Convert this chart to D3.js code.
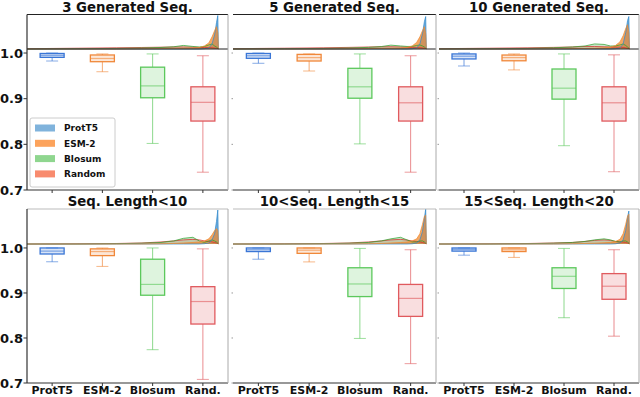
<!DOCTYPE html>
<html>
<head>
<meta charset="utf-8">
<script src="https://cdn.jsdelivr.net/npm/d3@7"></script>
<style>
body { margin: 0; background: #fff; }
svg text { font-family: "DejaVu Sans", sans-serif; font-weight: bold; fill: #111; }
</style>
</head>
<body>
<div id="chart"></div>
<script>
const w = 640;
const h = 397;

const models = ["ProtT5", "ESM-2", "Blosum", "Random"];
const xLabels = ["ProtT5", "ESM-2", "Blosum", "Rand."];
const panelTitles = ["3 Generated Seq.", "5 Generated Seq.", "10 Generated Seq.",
    "Seq. Length<10", "10<Seq. Length<15", "15<Seq. Length<20"];
const yTicks = [0.7, 0.8, 0.9, 1.0];

// box stats per panel: [low whisker, q1, median, q3, high whisker]
const protT5Box = [
    [0.9825, 0.9905, 0.995, 0.999, 1.0],
    [0.9775, 0.9884, 0.994, 0.999, 1.0],
    [0.9716, 0.987, 0.993, 0.998, 1.0],
    [0.9693, 0.9866, 0.993, 1.0, 1.0],
    [0.975, 0.992, 0.996, 1.0, 1.0],
    [0.984, 0.993, 0.997, 1.0, 1.0]
];
const esmBox = [
    [0.959, 0.981, 0.988, 0.9957, 0.998],
    [0.9606, 0.9825, 0.99, 0.997, 0.998],
    [0.963, 0.983, 0.99, 0.9956, 0.998],
    [0.959, 0.983, 0.992, 0.998, 1.0],
    [0.969, 0.988, 0.995, 1.0, 1.0],
    [0.979, 0.992, 0.996, 1.0, 1.0]
];
const blosumBox = [
    [0.802, 0.902, 0.928, 0.969, 0.998],
    [0.801, 0.901, 0.926, 0.9665, 0.998],
    [0.797, 0.899, 0.923, 0.965, 0.998],
    [0.774, 0.895, 0.919, 0.975, 1.0],
    [0.799, 0.892, 0.920, 0.956, 0.999],
    [0.845, 0.910, 0.937, 0.956, 0.999]
];
const randomBox = [
    [0.739, 0.851, 0.892, 0.926, 0.994],
    [0.739, 0.851, 0.891, 0.926, 0.994],
    [0.740, 0.851, 0.891, 0.926, 0.996],
    [0.708, 0.831, 0.881, 0.914, 0.998],
    [0.743, 0.848, 0.888, 0.919, 0.996],
    [0.804, 0.886, 0.915, 0.943, 0.996]
];

// histogram densities (top strip) on a shared similarity grid
const histX = [0.70, 0.78, 0.84, 0.88, 0.91, 0.93, 0.945, 0.96, 0.97, 0.978, 0.985, 0.99, 0.994, 0.997, 0.999, 1.0];
const protT5Hist = [
    [0,0,0,0,0,0,0,0,0,0.3,1,5,14,26,33,0],
    [0,0,0,0,0,0,0,0,0,0.3,1,5,15,27,32,0],
    [0,0,0,0,0,0,0,0,0,0.3,1,5,16,28,32,0],
    [0,0,0,0,0,0,0,0,0,0.3,1,4,10,22,33,0],
    [0,0,0,0,0,0,0,0,0,0.2,1,4,12,25,34,0],
    [0,0,0,0,0,0,0,0,0,0.2,1,4,13,26,32,0]
];
const esmHist = [
    [0,0,0,0.2,0.4,0.6,0.8,1,1.5,3,6,12,18,22,16,0],
    [0,0,0,0.2,0.4,0.6,0.8,1,1.6,3,6.5,12,18,22,15,0],
    [0,0,0,0.2,0.4,0.6,0.8,1.2,1.8,3.5,7,13,20,24,16,0],
    [0,0,0,0,0.2,0.5,1,1.5,2,3,5,9,13,15,13,0],
    [0,0,0,0,0.2,0.5,1,1.5,2,3,5,10,19,27,28,0],
    [0,0,0,0,0.2,0.5,0.8,1.2,1.6,2.5,4.5,10,19,27,29,0]
];
const blosumHist = [
    [0,0.3,0.6,1,1.5,2.2,3.5,2.5,2,2.5,4,5,3,2,1,0],
    [0,0.3,0.6,1,1.6,2.4,3.8,3,2.5,2.5,3.5,4,3,2,1,0],
    [0,0.3,0.6,1.2,2,3,5,4.5,3,3,4,5,3.5,2,1,0],
    [0,0,0.3,0.8,1.5,3,5.5,6.5,3,1.5,3,4,3,2,1,0],
    [0,0,0.3,0.8,1.5,3,5,6.5,4,2,2,3,3,2,1,0],
    [0,0,0.3,0.8,1.5,2.5,4,5,4,2.5,2,3,3,2,1,0]
];
const randomHist = [
    [0.3,0.8,1.2,1.5,1.8,2,2,1.8,1.6,1.5,1.5,1.2,1,0.8,0.5,0],
    [0.3,0.8,1.2,1.6,2,2.2,2.2,2,1.8,1.6,1.5,1.2,1,0.8,0.5,0],
    [0.3,0.8,1.2,1.6,2,2.5,2.5,2.2,2,1.8,1.8,1.5,1.2,0.8,0.5,0],
    [0,0.2,0.5,1,2,3,4,4.5,4,3,2.5,2,1.5,1,0.5,0],
    [0,0.2,0.5,1,2,3,4,4.5,3.8,3,2.5,2,1.5,1,0.5,0],
    [0,0.2,0.5,1,1.5,2.5,3.5,4,3.5,2.5,2,1.8,1.5,1,0.5,0]
];

const boxData = [protT5Box, esmBox, blosumBox, randomBox];
const histData = [protT5Hist, esmHist, blosumHist, randomHist];

const boxColors = ["#3a76d6", "#f0883a", "#5cc85c", "#e05a5e"];
const histColors = ["#2f88cc", "#f08a30", "#2ca02c", "#d62728"];
const histOpacity = [0.7, 0.75, 0.25, 0.2];
const legendColors = ["#80b3dc", "#fca35c", "#8fd68f", "#f88b6e"];

const panelX = [27, 233, 439];
const panelW = [201, 203, 200];
const rows = [
    {title: 11.5, histTop: 14.5, histBottom: 49, bottom: 190, topColor: "#222", sep: true},
    {title: 206, histTop: 209, histBottom: 244, bottom: 383, topColor: "#bbb", sep: false}
];

const svg = d3.select("#chart")
    .append("svg")
        .attr("width", w)
        .attr("height", h);

panelTitles.forEach((title, p) => {
    const row = rows[Math.floor(p / 3)];
    const col = p % 3;
    const x0 = panelX[col];
    const pw = panelW[col];
    const g = svg.append("g");

    const x = d3.scalePoint()
        .domain(models)
        .range([x0, x0 + pw])
        .padding(0.5);
    const y = d3.scaleLinear()
        .domain([0.7, 1.0088])
        .range([row.bottom, row.histBottom]);
    const hx = d3.scaleLinear()
        .domain([0.7, 1.015])
        .range([x0, x0 + pw]);
    const hy = d3.scaleLinear()
        .domain([0, 34])
        .range([row.histBottom, row.histTop]);

    // histogram strip
    const area = d3.area()
        .x((d, i) => hx(histX[i]))
        .y0(hy(0))
        .y1(d => hy(d));
    const line = d3.line()
        .x((d, i) => hx(histX[i]))
        .y(d => hy(d));
    [3, 2, 0, 1].forEach(m => {
        g.append("path")
            .attr("d", area(histData[m][p]))
            .attr("fill", histColors[m])
            .attr("fill-opacity", histOpacity[m]);
    });
    [3, 2, 0, 1].forEach(m => {
        g.append("path")
            .attr("d", line(histData[m][p]))
            .attr("fill", "none")
            .attr("stroke", histColors[m])
            .attr("stroke-opacity", 0.8)
            .attr("stroke-width", 0.9);
    });

    // spines
    g.append("line")
        .attr("x1", x0).attr("x2", x0 + pw)
        .attr("y1", row.histTop).attr("y2", row.histTop)
        .attr("stroke", row.topColor).attr("stroke-width", 1.2);
    if (row.sep) {
        g.append("line")
            .attr("x1", x0).attr("x2", x0 + pw)
            .attr("y1", row.histBottom).attr("y2", row.histBottom)
            .attr("stroke", "#222").attr("stroke-width", 1.2);
    }
    g.append("line")
        .attr("x1", x0).attr("x2", x0 + pw)
        .attr("y1", row.bottom).attr("y2", row.bottom)
        .attr("stroke", "#333").attr("stroke-width", 1.2);
    g.append("line")
        .attr("x1", x0 + pw).attr("x2", x0 + pw)
        .attr("y1", row.histTop).attr("y2", row.bottom)
        .attr("stroke", "#aaa").attr("stroke-width", 1);
    if (col == 0) {
        g.append("line")
            .attr("x1", x0).attr("x2", x0)
            .attr("y1", row.histTop).attr("y2", row.bottom)
            .attr("stroke", "#333").attr("stroke-width", 1.2);
    }

    // y ticks
    yTicks.forEach(t => {
        g.append("line")
            .attr("x1", x0 - (col == 0 ? 3.5 : 1.5)).attr("x2", x0)
            .attr("y1", y(t)).attr("y2", y(t))
            .attr("stroke", col == 0 ? "#333" : "#999");
        if (col == 0) {
            g.append("text")
                .attr("x", x0 - 4)
                .attr("y", y(t))
                .attr("dy", "0.36em")
                .attr("text-anchor", "end")
                .style("font-size", "13px")
                .text(d3.format(".1f")(t));
        }
    });

    // x ticks
    models.forEach((m, i) => {
        g.append("line")
            .attr("x1", x(m)).attr("x2", x(m))
            .attr("y1", row.bottom).attr("y2", row.bottom + 3)
            .attr("stroke", "#333");
        if (p >= 3) {
            g.append("text")
                .attr("x", x(m))
                .attr("y", 394)
                .attr("text-anchor", "middle")
                .style("font-size", "11px")
                .text(xLabels[i]);
        }
    });

    // boxes
    models.forEach((m, i) => {
        const s = boxData[i][p];
        const cx = x(m);
        const bw = 12;
        const cw = 6;
        const c = boxColors[i];
        g.append("line")
            .attr("x1", cx).attr("x2", cx)
            .attr("y1", y(s[4])).attr("y2", y(s[3]))
            .attr("stroke", c).attr("stroke-opacity", 0.7);
        g.append("line")
            .attr("x1", cx).attr("x2", cx)
            .attr("y1", y(s[1])).attr("y2", y(s[0]))
            .attr("stroke", c).attr("stroke-opacity", 0.7);
        [s[0], s[4]].forEach(v => {
            g.append("line")
                .attr("x1", cx - cw).attr("x2", cx + cw)
                .attr("y1", y(v)).attr("y2", y(v))
                .attr("stroke", c).attr("stroke-opacity", 0.6);
        });
        g.append("rect")
            .attr("x", cx - bw)
            .attr("y", y(s[3]))
            .attr("width", bw * 2)
            .attr("height", Math.max(y(s[1]) - y(s[3]), 1))
            .attr("fill", c).attr("fill-opacity", 0.2)
            .attr("stroke", c).attr("stroke-width", 1.3);
        g.append("line")
            .attr("x1", cx - bw).attr("x2", cx + bw)
            .attr("y1", y(s[2])).attr("y2", y(s[2]))
            .attr("stroke", c).attr("stroke-opacity", 0.6).attr("stroke-width", 1.2);
    });

    // title
    svg.append("text")
        .attr("x", x0 + pw / 2)
        .attr("y", row.title)
        .attr("text-anchor", "middle")
        .style("font-size", "13.3px")
        .text(title);
});

// legend in first panel
const legend = svg.append("g");
legend.append("rect")
    .attr("x", 30).attr("y", 118)
    .attr("width", 85).attr("height", 69)
    .attr("rx", 2)
    .attr("fill", "#fff").attr("fill-opacity", 0.85)
    .attr("stroke", "#ccc");
models.forEach((m, i) => {
    const ly = 128 + i * 15.3;
    legend.append("rect")
        .attr("x", 35).attr("y", ly - 3.5)
        .attr("width", 20).attr("height", 7)
        .attr("fill", legendColors[i]);
    legend.append("text")
        .attr("x", 64).attr("y", ly)
        .attr("dy", "0.36em")
        .style("font-size", "9px")
        .text(m);
});
</script>
</body>
</html>
